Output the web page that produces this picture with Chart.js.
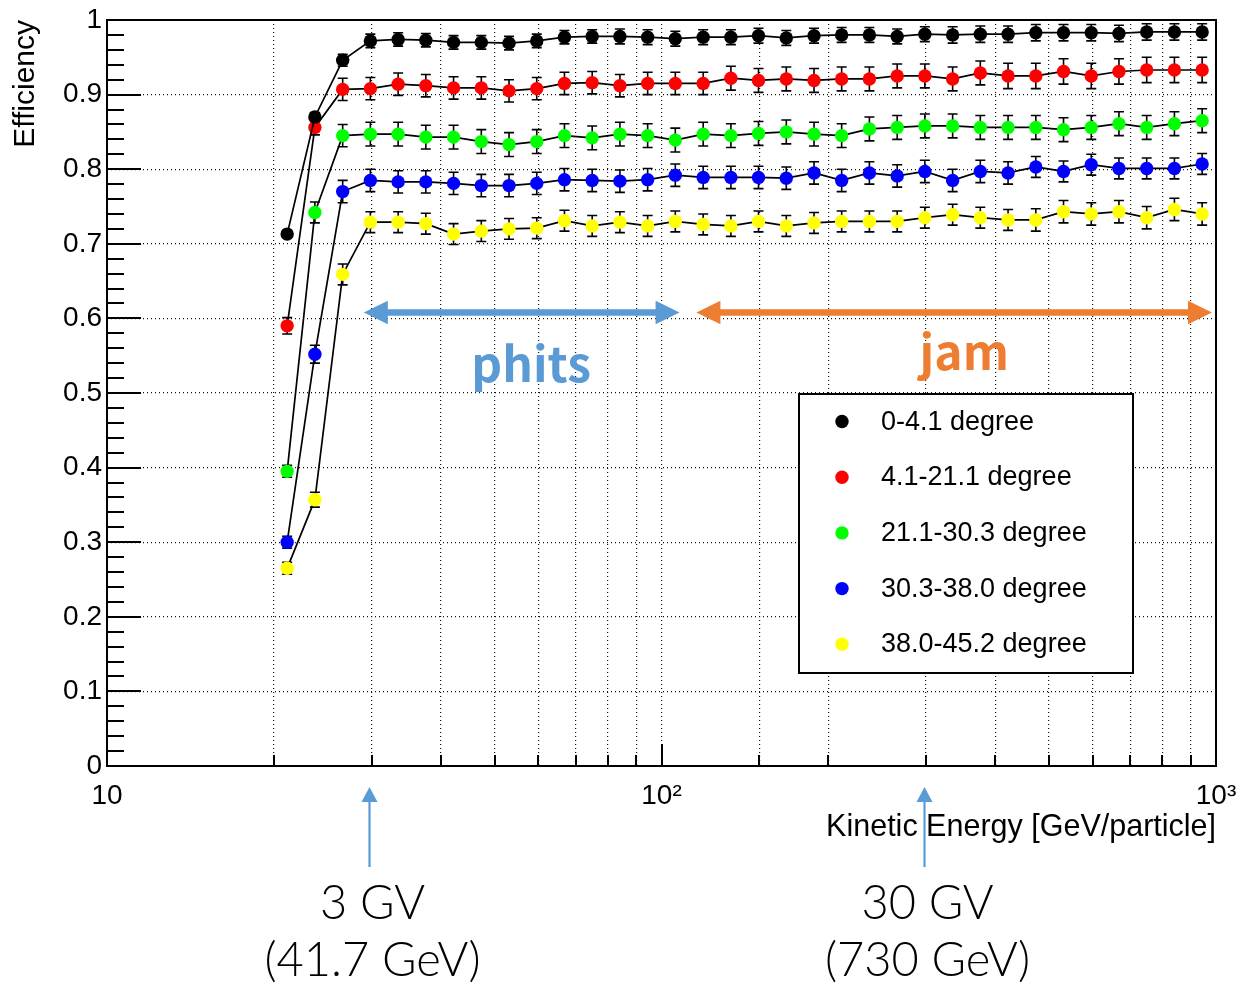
<!DOCTYPE html>
<html>
<head>
<meta charset="utf-8">
<script src="https://cdn.jsdelivr.net/npm/chart.js@4.4.1/dist/chart.umd.min.js"></script>
<style>
  html, body { margin: 0; padding: 0; background: #ffffff; }
  canvas { display: block; }
</style>
</head>
<body>
<canvas id="chart" width="1238" height="984"></canvas>
<script>
// Kinetic energy bin centres [GeV/particle]
const energies = [21.13, 23.71, 26.61, 29.85, 33.50, 37.58, 42.17, 47.32, 53.09, 59.57,
  66.83, 74.99, 84.14, 94.41, 105.9, 118.9, 133.4, 149.6, 167.9, 188.4,
  211.3, 237.1, 266.1, 298.5, 335.0, 375.8, 421.7, 473.2, 530.9, 595.7,
  668.3, 749.9, 841.4, 944.1];

const seriesLabels = ['0-4.1 degree', '4.1-21.1 degree', '21.1-30.3 degree', '30.3-38.0 degree', '38.0-45.2 degree'];
const seriesColors = ['#000000', '#ff0000', '#00ff00', '#0000ff', '#ffff00'];

// Efficiency per zenith-angle band
const effA = [0.713, 0.870, 0.946, 0.972, 0.974, 0.973, 0.970, 0.970, 0.969, 0.972,
  0.977, 0.978, 0.978, 0.977, 0.975, 0.977, 0.977, 0.979, 0.976, 0.979,
  0.980, 0.980, 0.978, 0.981, 0.980, 0.981, 0.981, 0.983, 0.983, 0.983,
  0.982, 0.984, 0.984, 0.984];
const effB = [0.590, 0.856, 0.907, 0.908, 0.914, 0.912, 0.909, 0.909, 0.905, 0.908,
  0.915, 0.916, 0.912, 0.915, 0.915, 0.915, 0.922, 0.919, 0.921, 0.919,
  0.921, 0.921, 0.925, 0.925, 0.921, 0.929, 0.925, 0.925, 0.931, 0.925,
  0.931, 0.933, 0.933, 0.933];
const effC = [0.395, 0.742, 0.845, 0.847, 0.847, 0.843, 0.843, 0.837, 0.833, 0.837,
  0.845, 0.842, 0.847, 0.845, 0.839, 0.847, 0.845, 0.848, 0.850, 0.847,
  0.845, 0.854, 0.856, 0.858, 0.858, 0.856, 0.856, 0.856, 0.853, 0.856,
  0.861, 0.856, 0.861, 0.865];
const effD = [0.300, 0.552, 0.770, 0.785, 0.783, 0.783, 0.781, 0.778, 0.778, 0.781,
  0.786, 0.785, 0.784, 0.786, 0.792, 0.789, 0.789, 0.789, 0.788, 0.795,
  0.785, 0.795, 0.791, 0.797, 0.785, 0.797, 0.795, 0.803, 0.797, 0.806,
  0.801, 0.801, 0.801, 0.807];
const effE = [0.265, 0.357, 0.659, 0.729, 0.729, 0.727, 0.713, 0.717, 0.720, 0.721,
  0.731, 0.724, 0.729, 0.724, 0.730, 0.726, 0.724, 0.730, 0.724, 0.728,
  0.730, 0.730, 0.730, 0.735, 0.739, 0.735, 0.732, 0.732, 0.743, 0.740,
  0.743, 0.735, 0.746, 0.740];

// Statistical uncertainties (symmetric)
const errA = [0.004, 0.006, 0.008, 0.009, 0.009, 0.009, 0.009, 0.009, 0.009, 0.009,
  0.009, 0.009, 0.010, 0.010, 0.010, 0.010, 0.010, 0.010, 0.010, 0.010,
  0.010, 0.010, 0.010, 0.010, 0.011, 0.011, 0.011, 0.011, 0.011, 0.011,
  0.011, 0.011, 0.011, 0.011];
const errB = [0.011, 0.010, 0.015, 0.015, 0.015, 0.015, 0.015, 0.015, 0.015, 0.015,
  0.015, 0.015, 0.015, 0.015, 0.015, 0.015, 0.016, 0.016, 0.016, 0.016,
  0.016, 0.016, 0.016, 0.016, 0.016, 0.016, 0.017, 0.017, 0.017, 0.017,
  0.017, 0.017, 0.017, 0.017];
const errC = [0.008, 0.014, 0.015, 0.016, 0.016, 0.016, 0.016, 0.016, 0.016, 0.016,
  0.016, 0.016, 0.016, 0.016, 0.016, 0.016, 0.016, 0.016, 0.016, 0.016,
  0.016, 0.016, 0.016, 0.016, 0.016, 0.016, 0.016, 0.016, 0.016, 0.016,
  0.016, 0.016, 0.016, 0.016];
const errD = [0.008, 0.012, 0.015, 0.015, 0.015, 0.015, 0.015, 0.015, 0.015, 0.015,
  0.015, 0.015, 0.015, 0.015, 0.015, 0.015, 0.015, 0.015, 0.015, 0.015,
  0.015, 0.015, 0.015, 0.015, 0.015, 0.015, 0.015, 0.014, 0.014, 0.014,
  0.014, 0.014, 0.014, 0.014];
const errE = [0.008, 0.010, 0.014, 0.014, 0.014, 0.014, 0.014, 0.014, 0.014, 0.014,
  0.014, 0.014, 0.014, 0.014, 0.014, 0.014, 0.014, 0.014, 0.014, 0.014,
  0.014, 0.014, 0.014, 0.014, 0.014, 0.014, 0.014, 0.015, 0.015, 0.015,
  0.015, 0.015, 0.015, 0.015];

const xTickLabels = { 10: '10', 100: '10\u00B2', 1000: '10\u00B3' };

// Ranges covered by each event generator, and rigidity markers on the energy axis
const phitsRange = [29.05, 107.8];
const jamRange = [115.6, 983.5];
const rangeArrowLevel = 0.608;
const rigidityMarks = [
  { energy: 29.7, lines: ['3 GV', '(41.7 GeV)'] },
  { energy: 298.0, lines: ['30 GV', '(730 GeV)'] }
];

const effSeries = [effA, effB, effC, effD, effE];
const errSeries = [errA, errB, errC, errD, errE];

const datasets = effSeries.map((vals, k) => ({
  label: seriesLabels[k],
  data: energies.map((e, i) => ({ x: e, y: vals[i] })),
  errors: errSeries[k],
  borderColor: '#000000',
  borderWidth: 1.7,
  pointRadius: 6.7,
  pointHoverRadius: 6.7,
  pointBackgroundColor: seriesColors[k],
  pointBorderColor: seriesColors[k],
  pointBorderWidth: 0,
  tension: 0,
  fill: false
}));

const AXIS_FONT = 'Liberation Sans, Arial, Helvetica, sans-serif';

// Frame and inward-pointing ticks in the ROOT style
const framePlugin = {
  id: 'frame',
  beforeDatasetsDraw(chart) {
    const { ctx, chartArea: a, scales } = chart;
    ctx.save();
    ctx.strokeStyle = '#000';
    ctx.lineWidth = 2;
    ctx.beginPath();
    // y ticks: major every 0.1, minor every 0.02
    for (let j = 0; j <= 50; j++) {
      const py = Math.round(scales.y.getPixelForValue(j / 50));
      const len = (j % 5 === 0) ? 34 : 17;
      ctx.moveTo(a.left, py);
      ctx.lineTo(a.left + len, py);
    }
    // x ticks from the log scale's own tick list
    scales.x.ticks.forEach(t => {
      const px = Math.round(scales.x.getPixelForValue(t.value));
      const major = xTickLabels[Math.round(t.value)] !== undefined;
      ctx.moveTo(px, a.bottom);
      ctx.lineTo(px, a.bottom - (major ? 22 : 11));
    });
    ctx.stroke();
    ctx.strokeRect(a.left, a.top, a.right - a.left, a.bottom - a.top);
    ctx.restore();
  }
};

// Vertical error bars with end caps
const errorBarPlugin = {
  id: 'errorBars',
  beforeDatasetsDraw(chart) {
    const { ctx } = chart;
    ctx.save();
    ctx.strokeStyle = '#000';
    ctx.lineWidth = 1.6;
    chart.data.datasets.forEach((ds, k) => {
      const meta = chart.getDatasetMeta(k);
      const ys = chart.scales.y;
      ds.data.forEach((p, i) => {
        const e = ds.errors[i];
        const px = meta.data[i].x;
        const y1 = ys.getPixelForValue(p.y + e);
        const y2 = ys.getPixelForValue(p.y - e);
        ctx.beginPath();
        ctx.moveTo(px, y1); ctx.lineTo(px, y2);
        ctx.moveTo(px - 5, y1); ctx.lineTo(px + 5, y1);
        ctx.moveTo(px - 5, y2); ctx.lineTo(px + 5, y2);
        ctx.stroke();
      });
    });
    ctx.restore();
  }
};

function doubleArrow(ctx, x1, x2, y, color) {
  const half = 3.3, headLen = 24, headHalf = 11.7;
  ctx.fillStyle = color;
  ctx.beginPath();
  ctx.moveTo(x1, y);
  ctx.lineTo(x1 + headLen, y - headHalf);
  ctx.lineTo(x1 + headLen, y - half);
  ctx.lineTo(x2 - headLen, y - half);
  ctx.lineTo(x2 - headLen, y - headHalf);
  ctx.lineTo(x2, y);
  ctx.lineTo(x2 - headLen, y + headHalf);
  ctx.lineTo(x2 - headLen, y + half);
  ctx.lineTo(x1 + headLen, y + half);
  ctx.lineTo(x1 + headLen, y + headHalf);
  ctx.closePath();
  ctx.fill();
}

// Legend box and annotations
const overlayPlugin = {
  id: 'overlay',
  afterDatasetsDraw(chart) {
    const { ctx, scales, chartArea: a } = chart;
    const xs = scales.x, ys = scales.y;
    ctx.save();

    // legend
    const lx = 799, ly = 394, lw = 334, lh = 279;
    ctx.fillStyle = '#fff';
    ctx.fillRect(lx, ly, lw, lh);
    ctx.strokeStyle = '#000';
    ctx.lineWidth = 2;
    ctx.strokeRect(lx, ly, lw, lh);
    ctx.font = '27px ' + AXIS_FONT;
    ctx.textAlign = 'left';
    ctx.textBaseline = 'alphabetic';
    chart.data.datasets.forEach((ds, k) => {
      const ry = 421.5 + k * 55.7;
      ctx.fillStyle = ds.pointBackgroundColor;
      ctx.beginPath();
      ctx.arc(842, ry, 6.7, 0, Math.PI * 2);
      ctx.fill();
      ctx.fillStyle = '#000';
      ctx.fillText(ds.label, 881, ry + 8);
    });

    // generator ranges
    const ay = ys.getPixelForValue(rangeArrowLevel);
    doubleArrow(ctx, xs.getPixelForValue(phitsRange[0]), xs.getPixelForValue(phitsRange[1]), ay, '#5B9BD5');
    doubleArrow(ctx, xs.getPixelForValue(jamRange[0]), xs.getPixelForValue(jamRange[1]), ay, '#ED7D31');
    ctx.textAlign = 'center';
    ctx.font = 'bold 48px "Noto Sans CJK JP", "Noto Sans", sans-serif';
    ctx.fillStyle = '#5B9BD5';
    ctx.fillText('phits', xs.getPixelForValue(58.2), ys.getPixelForValue(0.515));
    ctx.fillStyle = '#ED7D31';
    ctx.fillText('jam', xs.getPixelForValue(351.6), ys.getPixelForValue(0.531));

    // rigidity markers below the energy axis
    rigidityMarks.forEach(m => {
      const px = Math.round(xs.getPixelForValue(m.energy)) + 0.5;
      const tipY = a.bottom + 21, baseY = a.bottom + 101;
      ctx.strokeStyle = '#5B9BD5';
      ctx.lineWidth = 2.2;
      ctx.beginPath();
      ctx.moveTo(px, baseY);
      ctx.lineTo(px, tipY + 12);
      ctx.stroke();
      ctx.fillStyle = '#5B9BD5';
      ctx.beginPath();
      ctx.moveTo(px, tipY);
      ctx.lineTo(px - 8, tipY + 15);
      ctx.lineTo(px + 8, tipY + 15);
      ctx.closePath();
      ctx.fill();
      ctx.fillStyle = '#000';
      ctx.font = '300 47px Lato, "Noto Sans", sans-serif';
      ctx.textAlign = 'center';
      ctx.fillText(m.lines[0], px + 3, a.bottom + 153);
      ctx.fillText(m.lines[1], px + 3, a.bottom + 210);
    });
    ctx.restore();
  }
};

new Chart(document.getElementById('chart'), {
  type: 'line',
  data: { datasets },
  plugins: [framePlugin, errorBarPlugin, overlayPlugin],
  options: {
    responsive: false,
    animation: false,
    devicePixelRatio: 1,
    events: [],
    layout: { padding: { left: 0, right: 22, top: 20, bottom: 0 } },
    plugins: { legend: { display: false }, tooltip: { enabled: false } },
    scales: {
      x: {
        type: 'logarithmic',
        min: 10,
        max: 1000,
        afterFit(s) { s.height = 218; s.paddingLeft = 0; s.paddingRight = 0; },
        grid: { color: '#111', lineWidth: 1.2, drawTicks: false },
        border: { display: false, dash: [1, 3] },
        ticks: {
          autoSkip: false,
          maxRotation: 0,
          padding: 13,
          color: '#000',
          font: { family: AXIS_FONT, size: 28 },
          callback: (v) => xTickLabels[Math.round(v)] ?? ''
        },
        title: {
          display: true,
          text: 'Kinetic Energy [GeV/particle]',
          align: 'end',
          color: '#000',
          font: { family: AXIS_FONT, size: 30.5 },
          padding: { top: 0, bottom: 138 }
        }
      },
      y: {
        min: 0,
        max: 1,
        afterFit(s) { s.width = 107; s.paddingTop = 0; s.paddingBottom = 0; },
        grid: { color: '#111', lineWidth: 1.2, drawTicks: false },
        border: { display: false, dash: [1, 3] },
        ticks: {
          stepSize: 0.1,
          padding: 5,
          color: '#000',
          font: { family: AXIS_FONT, size: 28 },
          callback: (v) => String(Math.round(v * 10) / 10)
        },
        title: {
          display: true,
          text: 'Efficiency',
          align: 'end',
          color: '#000',
          font: { family: AXIS_FONT, size: 30 },
          padding: { top: 8, bottom: 0 }
        }
      }
    }
  }
});
</script>
</body>
</html>
